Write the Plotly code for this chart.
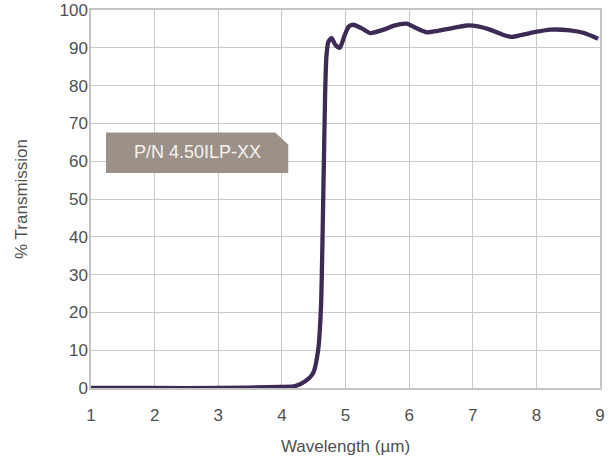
import plotly.graph_objects as go

wavelength = [1.0, 2.0, 3.0, 3.97, 4.21, 4.36, 4.49, 4.57, 4.615, 4.65, 4.68, 4.70, 4.73, 4.78, 4.84, 4.91,
              4.98, 5.05, 5.12, 5.25, 5.385, 5.6, 5.75, 5.96, 6.1, 6.28, 6.45, 6.64, 6.91, 7.1, 7.27,
              7.45, 7.61, 7.9, 8.22, 8.53, 8.75, 8.97]
transmission = [0.0, 0.0, 0.0, 0.3, 0.5, 1.7, 3.9, 10.0, 21.5, 50.0, 78.0, 87.7, 91.5, 92.6, 90.8, 90.0,
                93.0, 95.6, 96.1, 95.2, 93.9, 94.8, 95.8, 96.4, 95.3, 94.1, 94.5, 95.1, 95.9, 95.6, 94.8,
                93.6, 92.9, 93.9, 94.8, 94.6, 93.9, 92.4]
x_ticks = [1, 2, 3, 4, 5, 6, 7, 8, 9]
y_ticks = [0, 10, 20, 30, 40, 50, 60, 70, 80, 90, 100]
label_text = "P/N 4.50ILP-XX"

font_family = "Liberation Sans, Arial, Helvetica, sans-serif"
text_color = "#505050"

fig = go.Figure()
fig.add_trace(go.Scatter(
    x=wavelength, y=transmission, mode="lines",
    line=dict(color="#3d2b56", width=4.3, shape="spline", smoothing=0.6),
    hoverinfo="x+y", showlegend=False,
))

# Label box with a cut top-right corner
x0, x1 = 1.236, 4.10
y0, y1 = 56.9, 67.6
cx, cy = 3.896, 64.4
fig.add_shape(
    type="path",
    path=f"M {x0},{y0} L {x0},{y1} L {cx},{y1} L {x1},{cy} L {x1},{y0} Z",
    xref="x", yref="y", fillcolor="#9c9189", line=dict(width=0), layer="above",
)
fig.add_annotation(
    x=(x0 + x1) / 2, y=(y0 + y1) / 2 + 0.3, xref="x", yref="y",
    text=label_text, showarrow=False,
    font=dict(family=font_family, size=18, color="#f5f2ee"),
)

axis_common = dict(
    showgrid=True, gridcolor="#c9c9c9", gridwidth=1,
    showline=True, linecolor="#c4c4c4", linewidth=1.5, mirror=True,
    zeroline=False, automargin=False,
    tickfont=dict(family=font_family, size=17, color=text_color),
)

fig.update_layout(
    width=616, height=459,
    margin=dict(l=91, r=16, t=10, b=71),
    paper_bgcolor="white", plot_bgcolor="white",
    xaxis=dict(range=[1, 9], tickvals=x_ticks,
               ticks="outside", ticklen=11, tickcolor="rgba(0,0,0,0)",
               title=dict(text="Wavelength (µm)", font=dict(family=font_family, size=17, color=text_color), standoff=16),
               **axis_common),
    yaxis=dict(range=[0, 100], tickvals=y_ticks,
               ticks="", ticklabelstandoff=-2,
               title=dict(text="% Transmission", font=dict(family=font_family, size=17, color=text_color), standoff=28),
               **axis_common),
)

fig.write_html("out.html", config={"displayModeBar": False},
               post_script="document.body.style.margin='0';document.body.style.padding='0';")
